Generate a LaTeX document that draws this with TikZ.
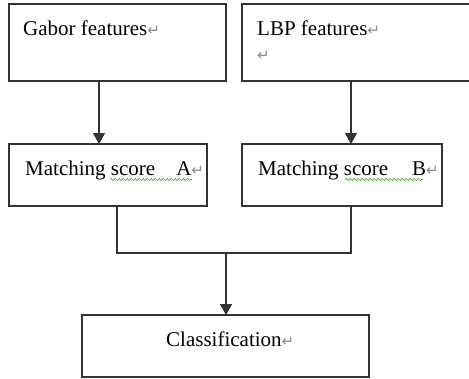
\documentclass[tikz,border=0pt]{standalone}
\usepackage{fontspec}
\setmainfont{Liberation Serif}
\newfontfamily\symfont{DejaVu Sans}
\usetikzlibrary{arrows.meta,decorations.pathmorphing}
\definecolor{boxgray}{HTML}{333333}
\definecolor{markgray}{HTML}{8A8A8A}
\definecolor{spellgreen}{HTML}{3C9A3C}
\newcommand{\retmark}{{\symfont\color{markgray}\fontsize{15}{15}\selectfont ↵}}
\begin{document}
\begin{tikzpicture}[x=1pt,y=-1pt,
  box/.style={draw=boxgray, line width=1.6pt, inner sep=0pt, outer sep=0pt},
  txt/.style={anchor=base west, inner sep=0pt, font=\fontsize{21}{24}\selectfont},
  link/.style={draw=boxgray, line width=1.3pt},
  arr/.style={link, -{Triangle[length=11pt,width=12pt]}},
  squiggle/.style={draw=spellgreen, line width=0.6pt, decorate,
    decoration={snake, amplitude=1.1pt, segment length=4pt}}]
\useasboundingbox (0,0) rectangle (469,378);
\clip (0,0) rectangle (469,378);
\fill[white] (0,0) rectangle (469,378);

% boxes
\node[box, minimum width=217pt, minimum height=77pt] (gabor) at (117.5,42.5) {};
\node[box, minimum width=233pt, minimum height=77pt] (lbp)   at (358.5,42.5) {};
\node[box, minimum width=198pt, minimum height=62pt] (msa)   at (108,175) {};
\node[box, minimum width=200pt, minimum height=62pt] (msb)   at (342,175) {};
\node[box, minimum width=287pt, minimum height=62pt] (cls)   at (225.5,346) {};

% texts
\node[txt] (tgabor) at (23,35) {Gabor features\retmark};
\node[txt] (tlbp) at (257,35) {LBP features\retmark};
\node[txt] (tlbp2) at (257,60) {\retmark};
\node[txt] (tmsa) at (25,175) {Matching score\hspace{21pt}A\retmark};
\node[txt] (tmsb) at (258,175) {Matching score\hspace{24pt}B\retmark};
\node[txt] (tcls) at (166,346) {Classification\retmark};

% spell-check squiggles
\draw[squiggle] (110,179.5) -- (192,179.5);
\draw[squiggle] (345,179.5) -- (423,179.5);

% connector x positions
\coordinate (xa) at (99,0);
\coordinate (xb) at (351,0);
\coordinate (xc) at (117,0);
\coordinate (xm) at (226,253);

\draw[arr] (xa |- gabor.south) -- (xa |- msa.north);
\draw[arr] (xb |- lbp.south) -- (xb |- msb.north);
\draw[link] (xc |- msa.south) -- (xc |- xm) -- (xb |- xm) -- (xb |- msb.south);
\draw[arr] (xm) -- (xm |- cls.north);
\end{tikzpicture}
\end{document}
